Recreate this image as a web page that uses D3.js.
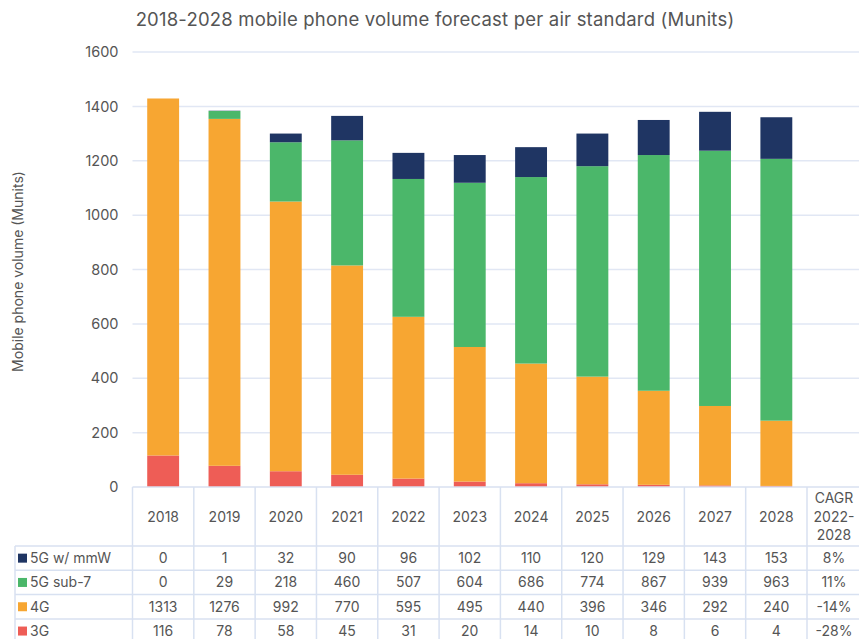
<!DOCTYPE html>
<html>
<head>
<meta charset="utf-8">
<script src="https://cdn.jsdelivr.net/npm/d3@7"></script>
<style>
  body { margin: 0; background: #fff; }
  svg { font-family: "Inter", "Noto Sans", sans-serif; }
</style>
</head>
<body>
<svg id="chart" width="859" height="639"></svg>
<script>
const years = ["2018", "2019", "2020", "2021", "2022", "2023", "2024", "2025", "2026", "2027", "2028"];
const series = ["3G", "4G", "5G sub-7", "5G w/ mmW"];
const mmw = [0, 1, 32, 90, 96, 102, 110, 120, 129, 143, 153];
const sub7 = [0, 29, 218, 460, 507, 604, 686, 774, 867, 939, 963];
const g4 = [1313, 1276, 992, 770, 595, 495, 440, 396, 346, 292, 240];
const g3 = [116, 78, 58, 45, 31, 20, 14, 10, 8, 6, 4];
const cagr = { "5G w/ mmW": "8%", "5G sub-7": "11%", "4G": "-14%", "3G": "-28%" };
const yTicks = [0, 200, 400, 600, 800, 1000, 1200, 1400, 1600];

const colors = { "3G": "#ee5d56", "4G": "#f7a632", "5G sub-7": "#4bb76a", "5G w/ mmW": "#1f3563" };
const tableOrder = ["5G w/ mmW", "5G sub-7", "4G", "3G"];

const valuesBy = { "3G": g3, "4G": g4, "5G sub-7": sub7, "5G w/ mmW": mmw };
const rows = years.map((y, i) => {
    let r = { year: y };
    series.forEach(s => r[s] = valuesBy[s][i]);
    return r;
});

const svg = d3.select("#chart");
const margin = { left: 132.5, top: 52, bottom: 487 };
const plotRight = 807;
const textColor = "#555";
const lineColor = "#d8e1f1";

const x = d3.scaleBand().domain(years).range([margin.left, plotRight]).paddingInner(0.48).paddingOuter(0.24);
const xCol = d3.scaleBand().domain(years).range([margin.left, plotRight]);
const y = d3.scaleLinear().domain([0, 1600]).range([margin.bottom, margin.top]);

// Title
svg.append("text")
    .attr("x", 435).attr("y", 26)
    .attr("text-anchor", "middle")
    .attr("font-size", 18.5)
    .attr("letter-spacing", 0.2)
    .attr("fill", textColor)
    .text("2018-2028 mobile phone volume forecast per air standard (Munits)");

// Gridlines
svg.append("g").selectAll("line")
    .data(yTicks.filter(d => d > 0))
    .join("line")
    .attr("x1", margin.left).attr("x2", 859)
    .attr("y1", d => y(d)).attr("y2", d => y(d))
    .attr("stroke", "#e1e7f4").attr("stroke-width", 1.5);

// Y axis labels
const yAxis = svg.append("g")
    .attr("transform", `translate(${margin.left - 14},0)`)
    .call(d3.axisLeft(y).tickValues(yTicks).tickFormat(d => d).tickSize(0).tickPadding(0));
yAxis.select(".domain").remove();
yAxis.selectAll("text")
    .attr("font-size", 14.5).attr("fill", textColor)
    .attr("font-family", "Inter, 'Noto Sans', sans-serif");

svg.append("text")
    .attr("transform", `translate(23, ${(margin.top + margin.bottom) / 2 + 2}) rotate(-90)`)
    .attr("text-anchor", "middle")
    .attr("font-size", 14)
    .attr("fill", textColor)
    .text("Mobile phone volume (Munits)");

// Stacked bars
const stacked = d3.stack().keys(series)(rows);
svg.append("g").selectAll("g")
    .data(stacked)
    .join("g")
    .attr("fill", d => colors[d.key])
    .selectAll("rect")
    .data(d => d)
    .join("rect")
    .attr("x", d => x(d.data.year))
    .attr("width", x.bandwidth())
    .attr("y", d => y(d[1]))
    .attr("height", d => y(d[0]) - y(d[1]));

// Data table
const headerBottom = 546;
const rowH = 24.3;
const labelLeft = 15;
const fs = 14;
const table = svg.append("g");

const rowTops = tableOrder.map((s, i) => headerBottom + i * rowH);

// horizontal lines
table.append("line")
    .attr("x1", margin.left).attr("x2", 859)
    .attr("y1", margin.bottom).attr("y2", margin.bottom)
    .attr("stroke", lineColor).attr("stroke-width", 1.5);
table.selectAll("line.h")
    .data(rowTops)
    .join("line").attr("class", "h")
    .attr("x1", labelLeft).attr("x2", 859)
    .attr("y1", d => d).attr("y2", d => d)
    .attr("stroke", lineColor).attr("stroke-width", 1.5);

// vertical lines
const colEdges = years.map(yr => xCol(yr)).concat([plotRight]);
table.selectAll("line.v")
    .data(colEdges)
    .join("line").attr("class", "v")
    .attr("x1", d => d).attr("x2", d => d)
    .attr("y1", margin.bottom).attr("y2", 639)
    .attr("stroke", lineColor).attr("stroke-width", 1.5);
table.append("line")
    .attr("x1", labelLeft).attr("x2", labelLeft)
    .attr("y1", headerBottom).attr("y2", 639)
    .attr("stroke", lineColor).attr("stroke-width", 1.5);

// header
table.selectAll("text.year")
    .data(years)
    .join("text").attr("class", "year")
    .attr("x", d => xCol(d) + xCol.bandwidth() / 2)
    .attr("y", 522)
    .attr("text-anchor", "middle")
    .attr("font-size", fs).attr("fill", textColor)
    .text(d => d);

const cagrX = (plotRight + 859) / 2 + 1;
table.selectAll("text.cagrh")
    .data(["CAGR", "2022-", "2028"])
    .join("text").attr("class", "cagrh")
    .attr("x", cagrX)
    .attr("y", (d, i) => 503 + i * 18.5)
    .attr("text-anchor", "middle")
    .attr("font-size", fs).attr("fill", textColor)
    .text(d => d);

// rows
tableOrder.forEach((s, i) => {
    const top = rowTops[i];
    const mid = top + rowH / 2 + 5;
    table.append("rect")
        .attr("x", 18).attr("y", top + rowH / 2 - 4.5)
        .attr("width", 9).attr("height", 9)
        .attr("fill", colors[s]);
    table.append("text")
        .attr("x", 30).attr("y", mid)
        .attr("font-size", fs).attr("fill", textColor)
        .text(s);
    table.selectAll(null)
        .data(valuesBy[s])
        .join("text")
        .attr("x", (d, j) => xCol(years[j]) + xCol.bandwidth() / 2)
        .attr("y", mid)
        .attr("text-anchor", "middle")
        .attr("font-size", fs).attr("fill", textColor)
        .text(d => d);
    table.append("text")
        .attr("x", cagrX).attr("y", mid)
        .attr("text-anchor", "middle")
        .attr("font-size", fs).attr("fill", textColor)
        .text(cagr[s]);
});
</script>
</body>
</html>
